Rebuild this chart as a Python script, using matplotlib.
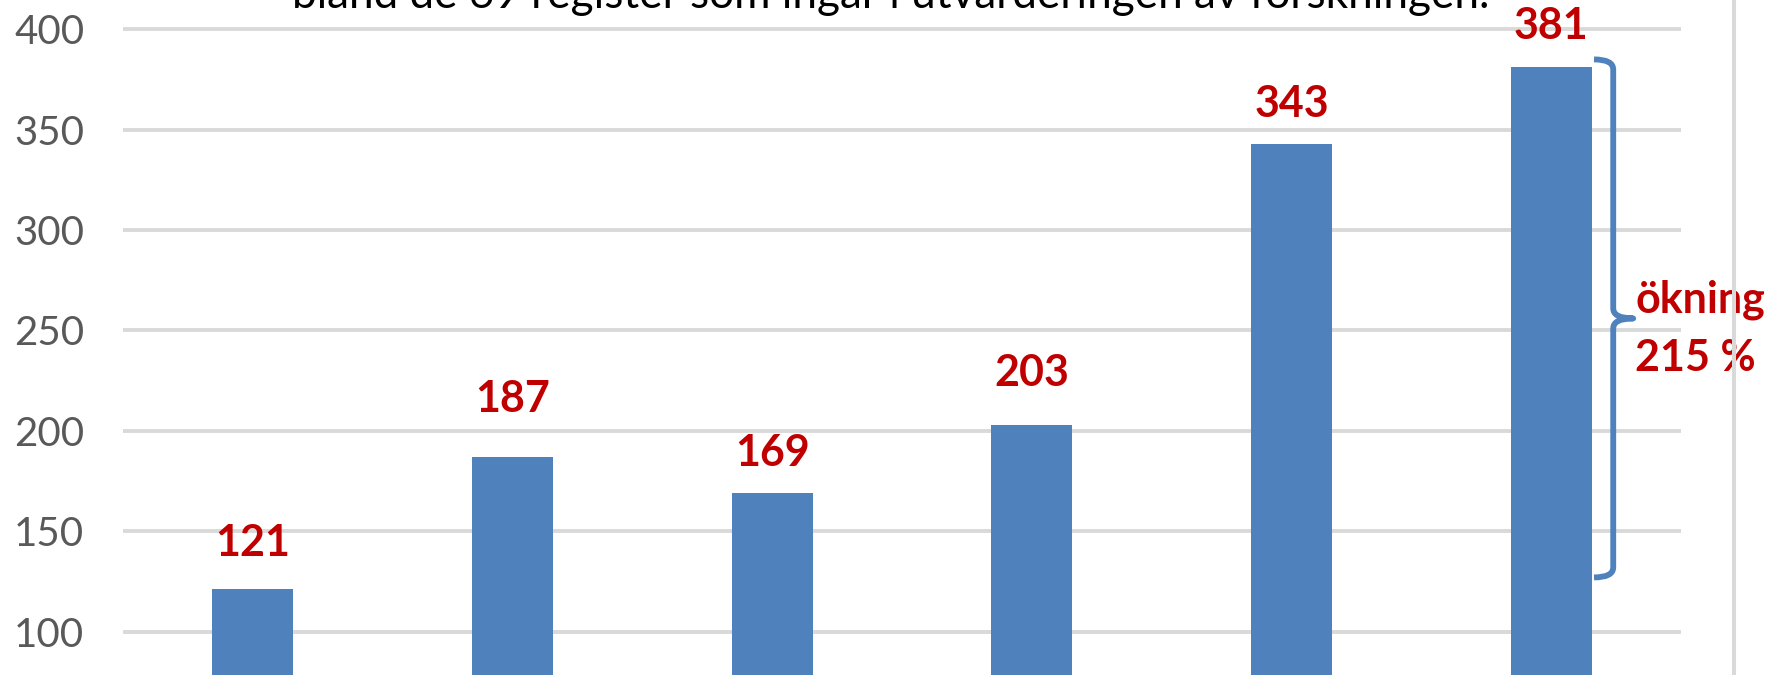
import matplotlib.pyplot as plt
from matplotlib.path import Path
from matplotlib.patches import PathPatch
from matplotlib.lines import Line2D

plt.rcParams['font.family'] = ['Lato', 'DejaVu Sans']

categories = ['1', '2', '3', '4', '5', '6']
values = [121, 187, 169, 203, 343, 381]
title_line = 'bland de 69 register som ingår i utvärderingen av forskningen.'
increase_label = ['ökning', '215 %']
y_ticks = [100, 150, 200, 250, 300, 350, 400]

bar_color = '#4F81BD'
red = '#C00000'
grid_color = '#D9D9D9'

W, H = 1772, 675
fig = plt.figure(figsize=(W / 100, H / 100), dpi=100)
ax = fig.add_axes([123 / W, 0, (1681 - 123) / W, 1])

x = list(range(len(values)))
ax.bar(x, values, width=0.312, color=bar_color, zorder=2)

ax.set_xlim(-0.5, len(values) - 0.5)
ax.set_ylim(78.4, 414.6)
ax.set_yticks(y_ticks)
ax.set_xticks([])
ax.tick_params(axis='y', length=0, pad=28, labelsize=29, labelcolor='#595959')
ax.yaxis.grid(True, color=grid_color, linewidth=2.8)
ax.set_axisbelow(True)
for s in ax.spines.values():
    s.set_visible(False)

# value labels, placed by hand in the original so the gaps differ a bit
gaps = [33, 45, 27, 39, 27, 28]
for xi, v, g in zip(x, values, gaps):
    ax.annotate(str(v), (xi, v), xytext=(0, g), textcoords='offset pixels',
                ha='center', va='baseline', fontsize=31, fontweight='bold',
                color=red, zorder=3)

# brace from first to last value
lo, hi = values[0] + 6, values[-1] + 4
mid = (lo + hi) / 2
xr = x[-1]
x_end = xr + 0.165
x_line = xr + 0.239
x_tip = xr + 0.316
rx, ry = 0.03, 5
verts = [(x_end, hi), (x_line, hi), (x_line, hi - ry),
         (x_line, mid + ry), (x_line, mid), (x_tip, mid),
         (x_line, mid), (x_line, mid - ry),
         (x_line, lo + ry), (x_line, lo), (x_end, lo)]
codes = [Path.MOVETO, Path.CURVE3, Path.CURVE3,
         Path.LINETO, Path.CURVE3, Path.CURVE3,
         Path.CURVE3, Path.CURVE3,
         Path.LINETO, Path.CURVE3, Path.CURVE3]
ax.add_patch(PathPatch(Path(verts, codes), fill=False, edgecolor=bar_color,
                       linewidth=4.2, capstyle='butt', joinstyle='round',
                       clip_on=False, zorder=3))

ax.annotate(increase_label[0], (x_tip, mid), xytext=(2, 6), textcoords='offset pixels',
            ha='left', va='baseline', fontsize=31, fontweight='bold', color=red,
            annotation_clip=False)
ax.annotate(increase_label[1], (x_tip, mid), xytext=(2, -53), textcoords='offset pixels',
            ha='left', va='baseline', fontsize=31, fontweight='bold', color=red,
            annotation_clip=False)

# title line, cut off at the top in the original
t = fig.text(891 / W, 1 - 8 / H, title_line, ha='center', va='baseline',
             fontsize=28, color='black')
fig.canvas.draw()
w = t.get_window_extent().width
t.set_fontsize(28 * 1198 / w)

# chart border on the right
fig.add_artist(Line2D([1734 / W, 1734 / W], [0, 1], color=grid_color,
                      linewidth=2.9, transform=fig.transFigure))

fig.savefig('out.png', dpi=100)
